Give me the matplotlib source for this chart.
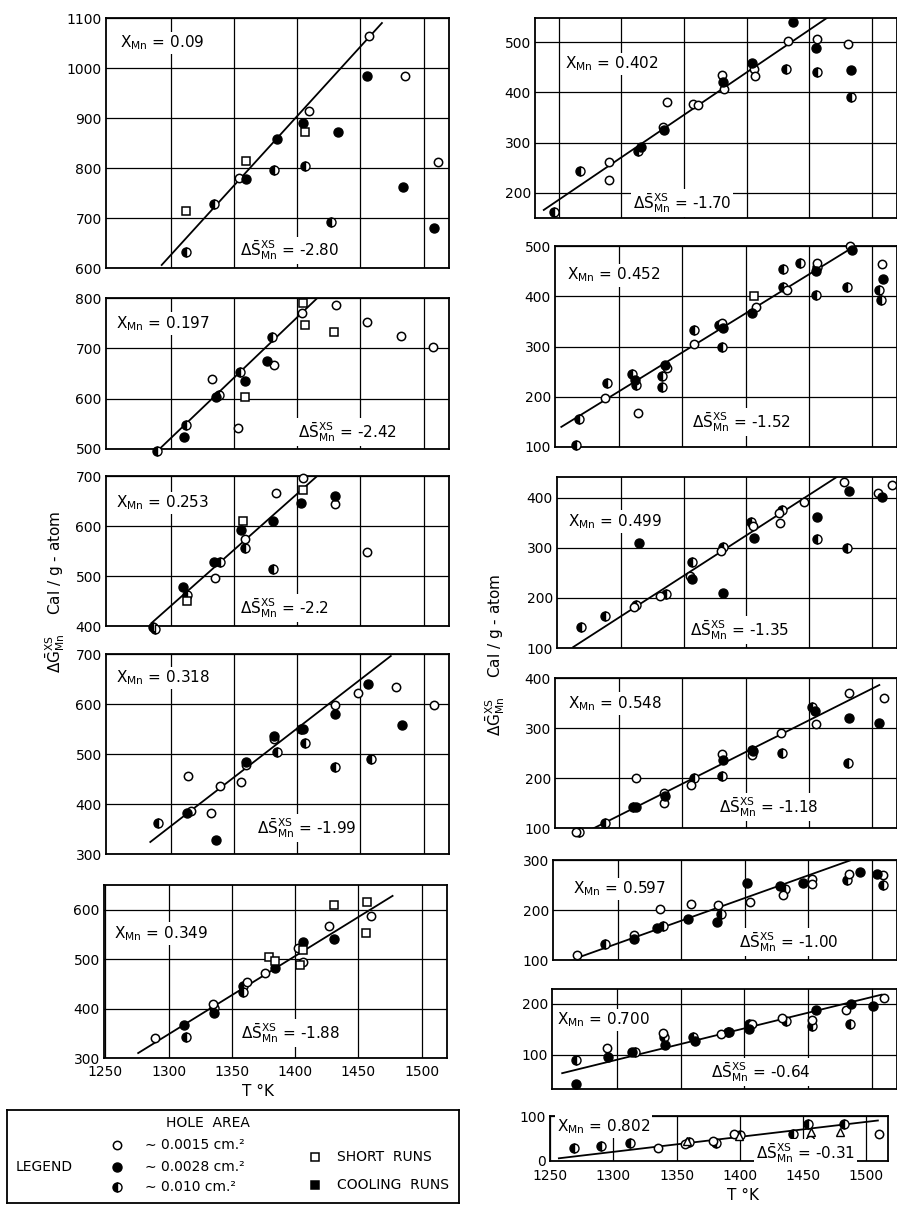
import matplotlib.pyplot as plt

plt.rcParams['font.family'] = ['DejaVu Sans']
plt.rcParams['mathtext.fontset'] = 'dejavusans'

# ---- data: (T in K, dG in cal/g-atom) ----
# X_Mn = 0.09
a_open = [(1457, 1064), (1485, 984), (1409, 914), (1511, 812), (1354, 780)]
a_fill = [(1455, 984), (1405, 890), (1432, 872), (1384, 858), (1360, 778), (1484, 762), (1508, 680)]
a_half = [(1382, 796), (1406, 804), (1334, 728), (1427, 692), (1312, 632)]
a_sq = [(1406, 872), (1360, 814), (1312, 714)]
a_line = [(1293, 606), (1467, 1090)]

# X_Mn = 0.197
b_open = [(1404, 770), (1431, 786), (1455, 752), (1482, 724), (1507, 702), (1382, 667), (1333, 639), (1353, 541)]
b_fill = [(1376, 675), (1359, 635), (1336, 603), (1311, 523)]
b_half = [(1380, 722), (1355, 652), (1338, 608), (1312, 547), (1289, 497)]
b_sq = [(1405, 790), (1406, 746), (1429, 732), (1359, 603)]
b_line = [(1290, 497), (1416, 800)]

# X_Mn = 0.253
c_open = [(1405, 696), (1383, 666), (1430, 644), (1359, 574), (1455, 548), (1335, 496)]
c_fill = [(1403, 646), (1430, 660), (1381, 610), (1356, 592), (1334, 528), (1310, 478)]
c_half = [(1359, 556), (1381, 514), (1339, 528), (1313, 462), (1286, 398), (1288, 394)]
c_sq = [(1405, 672), (1357, 610), (1313, 450)]
c_line = [(1285, 406), (1415, 698)]

# X_Mn = 0.318
d_open = [(1448, 622), (1478, 634), (1430, 598), (1508, 598), (1382, 530), (1360, 478), (1356, 444),
          (1314, 456), (1339, 436), (1316, 386), (1332, 382)]
d_fill = [(1456, 640), (1430, 580), (1483, 558), (1405, 550), (1382, 536), (1360, 484), (1313, 382), (1336, 328)]
d_half = [(1406, 522), (1384, 504), (1430, 474), (1458, 490), (1290, 362), (1403, 550)]
d_line = [(1284, 324), (1474, 696)]

# X_Mn = 0.349
e_open = [(1460, 588), (1427, 568), (1402, 522), (1406, 495), (1376, 472), (1362, 454), (1335, 410), (1289, 340)]
e_fill = [(1431, 540), (1406, 534), (1384, 483), (1336, 392), (1312, 366)]
e_half = [(1359, 445), (1359, 434), (1336, 402), (1314, 342)]
e_sq = [(1431, 610), (1457, 616), (1456, 552), (1406, 518), (1404, 489), (1379, 504), (1384, 496)]
e_line = [(1276, 310), (1477, 628)]

# X_Mn = 0.402
f_open = [(1433, 502), (1456, 506), (1481, 496), (1406, 446), (1407, 432), (1380, 434), (1382, 406), (1357, 377),
          (1361, 375), (1336, 381), (1333, 331), (1290, 261), (1290, 225)]
f_fill = [(1437, 540), (1455, 488), (1483, 444), (1404, 458), (1381, 420), (1334, 325), (1316, 291)]
f_half = [(1456, 440), (1431, 446), (1483, 390), (1313, 283), (1267, 243), (1246, 162)]
f_line = [(1238, 166), (1464, 548)]

# X_Mn = 0.452
g_open = [(1483, 500), (1508, 464), (1457, 466), (1433, 412), (1408, 379), (1381, 347), (1359, 305), (1338, 257),
          (1315, 167), (1289, 198)]
g_fill = [(1484, 492), (1509, 434), (1456, 450), (1405, 367), (1382, 337), (1336, 263), (1312, 233)]
g_half = [(1506, 412), (1507, 392), (1480, 418), (1457, 459), (1456, 402), (1443, 466), (1430, 454), (1430, 418),
          (1379, 343), (1381, 300), (1359, 333), (1334, 241), (1334, 220), (1310, 245), (1313, 223), (1290, 228),
          (1268, 156), (1266, 104)]
g_sq = [(1407, 400)]
g_line = [(1254, 140), (1488, 502)]

# X_Mn = 0.499
h_open = [(1478, 432), (1505, 410), (1516, 426), (1446, 392), (1426, 370), (1427, 350), (1405, 344), (1380, 294),
          (1355, 244), (1331, 204), (1310, 182)]
h_fill = [(1482, 414), (1508, 402), (1456, 362), (1406, 320), (1381, 210), (1357, 238), (1314, 310)]
h_half = [(1456, 318), (1480, 300), (1428, 376), (1404, 352), (1381, 302), (1357, 272), (1336, 208), (1312, 186),
          (1287, 164), (1268, 142)]
h_line = [(1262, 102), (1472, 442)]

# X_Mn = 0.548
i_open = [(1482, 370), (1510, 360), (1456, 308), (1428, 290), (1405, 246), (1381, 248), (1313, 200), (1357, 186),
          (1335, 170), (1335, 150), (1266, 92)]
i_fill = [(1482, 320), (1506, 310), (1455, 334), (1406, 254), (1382, 236), (1336, 164), (1313, 142)]
i_half = [(1481, 230), (1453, 342), (1429, 250), (1405, 256), (1381, 204), (1359, 200), (1311, 142), (1289, 110),
          (1268, 92)]
i_line = [(1269, 86), (1506, 386)]

# X_Mn = 0.597
j_open = [(1482, 272), (1509, 270), (1453, 262), (1453, 252), (1430, 230), (1404, 216), (1379, 210), (1358, 212),
          (1333, 202), (1313, 150), (1268, 110)]
j_fill = [(1491, 276), (1504, 272), (1446, 254), (1428, 248), (1402, 254), (1378, 176), (1355, 182), (1331, 164),
          (1313, 142)]
j_half = [(1481, 260), (1509, 250), (1432, 242), (1381, 192), (1336, 168), (1290, 132)]
j_line = [(1270, 106), (1484, 300)]

# X_Mn = 0.700
k_open = [(1510, 212), (1480, 188), (1453, 168), (1430, 172), (1406, 160), (1382, 140), (1336, 143), (1292, 114)]
k_fill = [(1501, 196), (1484, 200), (1456, 188), (1404, 150), (1388, 145), (1361, 128), (1338, 120), (1312, 106),
          (1293, 96), (1268, 43)]
k_half = [(1483, 160), (1453, 157), (1433, 166), (1404, 160), (1387, 145), (1360, 134), (1337, 135), (1314, 106),
          (1268, 90)]
k_line = [(1257, 64), (1508, 218)]

# X_Mn = 0.802
m_open = [(1510, 61), (1455, 46), (1455, 35), (1395, 60), (1379, 45), (1357, 38), (1335, 29)]
m_half = [(1482, 83), (1454, 82), (1442, 59), (1400, 58), (1381, 40), (1360, 43), (1313, 40), (1290, 33), (1269, 29)]
m_tri = [(1479, 65), (1456, 65), (1399, 55), (1358, 45)]
m_line = [(1257, 6), (1509, 90)]

x_mn = ['0.09', '0.197', '0.253', '0.318', '0.349', '0.402', '0.452', '0.499', '0.548', '0.597', '0.700', '0.802']
ds_mn = ['-2.80', '-2.42', '-2.2', '-1.99', '-1.88', '-1.70', '-1.52', '-1.35', '-1.18', '-1.00', '-0.64', '-0.31']
legend_sizes = ['0.0015', '0.0028', '0.010']

W, H = 897, 1205
fig = plt.figure(figsize=(W / 100, H / 100), dpi=100)

st_open = dict(marker='o', ms=6, mfc='white', mec='black', mew=1.1, ls='none')
st_fill = dict(marker='o', ms=6.5, mfc='black', mec='black', mew=1.0, ls='none')
st_half = dict(marker='o', ms=6.5, fillstyle='left', mfc='black', mfcalt='white', mec='black', mew=1.0, ls='none')
st_sq = dict(marker='s', ms=5.5, mfc='white', mec='black', mew=1.1, ls='none')
st_fsq = dict(marker='s', ms=5.5, mfc='black', mec='black', mew=1.1, ls='none')
st_tri = dict(marker='^', ms=6, mfc='white', mec='black', mew=1.0, ls='none')


def box(l, t, r, b):
    return fig.add_axes([l / W, 1 - b / H, (r - l) / W, (b - t) / H])


def panel(px, xlim, ylim, yticks, xticks, series, line, k, tpos, dpos, xpad=None):
    ax = box(*px)
    for pts, st in series:
        if pts:
            ax.plot([p[0] for p in pts], [p[1] for p in pts], clip_on=False, zorder=4, **st)
    ax.plot([p[0] for p in line], [p[1] for p in line], color='black', lw=1.3, zorder=3)
    ax.set_xlim(*xlim)
    ax.set_ylim(*ylim)
    ax.set_yticks(yticks)
    ax.set_xticks(xticks)
    ax.grid(True, color='black', lw=0.9)
    ax.set_axisbelow(True)
    ax.tick_params(length=0, labelsize=10, pad=3)
    if xpad is None:
        ax.set_xticklabels([])
    else:
        ax.tick_params(axis='x', pad=xpad)
    for s in ax.spines.values():
        s.set_linewidth(1.3)
    bb = dict(facecolor='white', edgecolor='none', pad=1.5)
    ax.text(tpos[0], tpos[1], r'$\mathrm{X_{Mn}}$ = ' + x_mn[k], transform=ax.transAxes,
            fontsize=11, va='center', ha='left', bbox=bb, zorder=5)
    ax.text(dpos[0], dpos[1], r'$\Delta\mathrm{\bar{S}^{XS}_{Mn}}$ = ' + ds_mn[k], transform=ax.transAxes,
            fontsize=11, va='center', ha='left', bbox=bb, zorder=5)
    return ax


xt = [1300, 1350, 1400, 1450, 1500]
xl = (1249, 1520)

panel((106, 18, 449, 268), xl, (600, 1100), range(600, 1101, 100), xt,
      [(a_half, st_half), (a_open, st_open), (a_fill, st_fill), (a_sq, st_sq)], a_line, 0, (0.04, 0.90), (0.39, 0.07))
panel((106, 298, 449, 449), xl, (500, 800), range(500, 801, 100), xt,
      [(b_half, st_half), (b_open, st_open), (b_fill, st_fill), (b_sq, st_sq)], b_line, 1, (0.03, 0.83), (0.56, 0.11))
panel((106, 476, 449, 626), xl, (400, 700), range(400, 701, 100), xt,
      [(c_half, st_half), (c_open, st_open), (c_fill, st_fill), (c_sq, st_sq)], c_line, 2, (0.03, 0.82), (0.39, 0.12))
panel((106, 654, 449, 854), xl, (300, 700), range(300, 701, 100), xt,
      [(d_half, st_half), (d_open, st_open), (d_fill, st_fill)], d_line, 3, (0.03, 0.88), (0.44, 0.13))
panel((104, 885, 447, 1058), xl, (300, 650), range(300, 601, 100), [1250] + xt,
      [(e_half, st_half), (e_open, st_open), (e_fill, st_fill), (e_sq, st_sq)], e_line, 4, (0.03, 0.72),
      (0.40, 0.145), xpad=5)

panel((535, 18, 897, 218), (1231, 1520), (150, 548), range(200, 501, 100), [1250] + xt,
      [(f_half, st_half), (f_open, st_open), (f_fill, st_fill)], f_line, 5, (0.083, 0.77), (0.27, 0.075))
panel((555, 246, 897, 447), xl, (100, 500), range(100, 501, 100), xt,
      [(g_half, st_half), (g_open, st_open), (g_fill, st_fill), (g_sq, st_sq)], g_line, 6, (0.035, 0.855), (0.40, 0.125))
panel((557, 477, 897, 648), xl, (100, 442), range(100, 401, 100), xt,
      [(h_half, st_half), (h_open, st_open), (h_fill, st_fill)], h_line, 7, (0.032, 0.74), (0.39, 0.105))
panel((555, 678, 897, 828), xl, (100, 400), range(100, 401, 100), xt,
      [(i_half, st_half), (i_open, st_open), (i_fill, st_fill)], i_line, 8, (0.038, 0.83), (0.48, 0.14))
panel((553, 860, 897, 960), xl, (100, 300), range(100, 301, 100), xt,
      [(j_half, st_half), (j_open, st_open), (j_fill, st_fill)], j_line, 9, (0.058, 0.71), (0.54, 0.18))
panel((552, 989, 897, 1089), xl, (33, 229), [100, 200], xt,
      [(k_half, st_half), (k_open, st_open), (k_fill, st_fill)], k_line, 10, (0.014, 0.69), (0.46, 0.17))
panel((550, 1116, 888, 1161), (1250, 1517), (0, 100), [0, 100], [1250] + xt,
      [(m_half, st_half), (m_open, st_open), (m_tri, st_tri)], m_line, 11, (0.02, 0.76), (0.61, 0.18), xpad=6)

ylab = r'$\Delta\mathrm{\bar{G}^{XS}_{Mn}}$    Cal / g - atom'
fig.text(55 / W, 1 - 592 / H, ylab, rotation=90, ha='center', va='center', fontsize=11)
fig.text(495 / W, 1 - 655 / H, ylab, rotation=90, ha='center', va='center', fontsize=11)
fig.text(258 / W, 1 - 1092 / H, 'T °K', ha='center', va='center', fontsize=11)
fig.text(743 / W, 1 - 1195 / H, 'T °K', ha='center', va='center', fontsize=11)

# legend box
lg = box(7, 1110, 459, 1203)
lg.set_xlim(0, 1)
lg.set_ylim(0, 1)
lg.set_xticks([])
lg.set_yticks([])
for s in lg.spines.values():
    s.set_linewidth(1.3)
lg.text(0.445, 0.86, 'HOLE  AREA', ha='center', va='center', fontsize=10)
lg.text(0.02, 0.39, 'LEGEND', ha='left', va='center', fontsize=10)
for yy, st, sz in zip([0.62, 0.39, 0.17], [st_open, st_fill, st_half], legend_sizes):
    lg.plot([0.243], [yy], **st)
    lg.text(0.305, yy, '∼ ' + sz + ' cm.²', ha='left', va='center', fontsize=10)
lg.plot([0.681], [0.495], **st_sq)
lg.text(0.73, 0.495, 'SHORT  RUNS', ha='left', va='center', fontsize=10)
lg.plot([0.681], [0.195], **st_fsq)
lg.text(0.73, 0.195, 'COOLING  RUNS', ha='left', va='center', fontsize=10)

fig.savefig('out.png', dpi=100)
